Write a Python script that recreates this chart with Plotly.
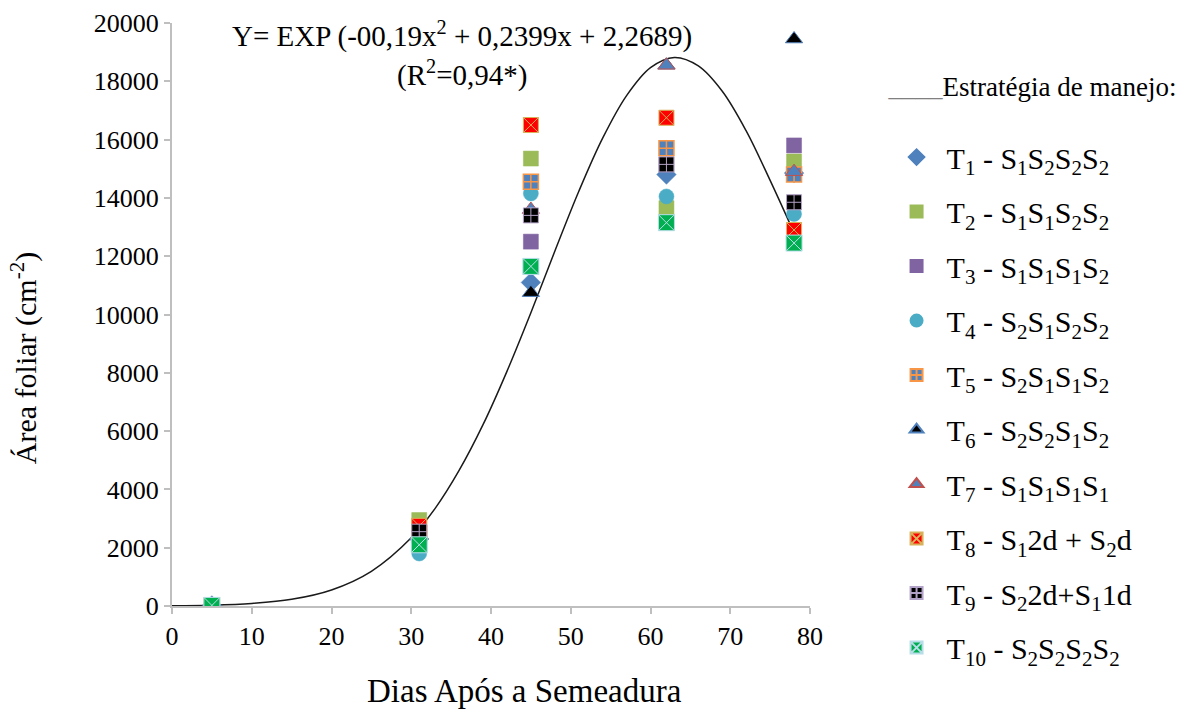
import plotly.graph_objects as go

# ---------------- data ----------------
days = [5, 31, 45, 62, 78]

T1 = [20, 2300, 11100, 14800, 14850]
T2 = [20, 2950, 15350, 13650, 15250]
T3 = [20, 2400, 12500, 15150, 15800]
T4 = [20, 1800, 14150, 14050, 13450]
T5 = [20, 2500, 14550, 15700, 14800]
T6 = [20, 2400, 10750, 18550, 19450]
T7 = [20, 2450, 13600, 18550, 14900]
T8 = [20, 2750, 16500, 16750, 12900]
T9 = [20, 2550, 13400, 15150, 13850]
T10 = [20, 2100, 11650, 13150, 12450]

# fitted curve
curve_x = [0, 5, 10, 15, 20, 25, 30, 33, 36, 39, 42, 45, 48, 51, 54, 57, 60, 63, 66, 69, 72, 75, 78]
curve_y = [10, 30, 90, 230, 550, 1190, 2340, 3350, 4650, 6220, 8050, 10060, 12170, 14220,
           16050, 17510, 18470, 18820, 18530, 17660, 16300, 14600, 12800]

names = [
    "T<sub>1</sub> - S<sub>1</sub>S<sub>2</sub>S<sub>2</sub>S<sub>2</sub>",
    "T<sub>2</sub> - S<sub>1</sub>S<sub>1</sub>S<sub>2</sub>S<sub>2</sub>",
    "T<sub>3</sub> - S<sub>1</sub>S<sub>1</sub>S<sub>1</sub>S<sub>2</sub>",
    "T<sub>4</sub> - S<sub>2</sub>S<sub>1</sub>S<sub>2</sub>S<sub>2</sub>",
    "T<sub>5</sub> - S<sub>2</sub>S<sub>1</sub>S<sub>1</sub>S<sub>2</sub>",
    "T<sub>6</sub> - S<sub>2</sub>S<sub>2</sub>S<sub>1</sub>S<sub>2</sub>",
    "T<sub>7</sub> - S<sub>1</sub>S<sub>1</sub>S<sub>1</sub>S<sub>1</sub>",
    "T<sub>8</sub> - S<sub>1</sub>2d + S<sub>2</sub>d",
    "T<sub>9</sub> - S<sub>2</sub>2d+S<sub>1</sub>1d",
    "T<sub>10</sub> - S<sub>2</sub>S<sub>2</sub>S<sub>2</sub>S<sub>2</sub>",
]
series = [T1, T2, T3, T4, T5, T6, T7, T8, T9, T10]

# ---------------- styles ----------------
styles = [
    dict(symbol="diamond", color="#4F81BD", line=dict(color="#4F81BD", width=0.5), size=15),
    dict(symbol="square", color="#9BBB59", line=dict(color="#9BBB59", width=0.5), size=15),
    dict(symbol="square", color="#8064A2", line=dict(color="#8064A2", width=0.5), size=15),
    dict(symbol="circle", color="#4BACC6", line=dict(color="#4BACC6", width=0.5), size=15),
    dict(symbol="square-cross", color="#4F81BD", line=dict(color="#F79646", width=1.5), size=15),
    dict(symbol="triangle-up", color="#000000", line=dict(color="#4F81BD", width=1), size=15),
    dict(symbol="triangle-up", color="#4F81BD", line=dict(color="#C0504D", width=1), size=15),
    dict(symbol="square-x", color="#FF0000", line=dict(color="#D8B25A", width=1), size=15),
    dict(symbol="square-cross", color="#000000", line=dict(color="#B3A2C7", width=1), size=15),
    dict(symbol="square-x", color="#00B050", line=dict(color="#B7DEE8", width=1), size=16),
]

fig = go.Figure()

fig.add_trace(go.Scatter(
    x=curve_x, y=curve_y, mode="lines", line=dict(color="#1a1a1a", width=1.5, shape="spline"),
    showlegend=False, hoverinfo="skip"))

for i, (nm, ys, st) in enumerate(zip(names, series, styles)):
    fig.add_trace(go.Scatter(
        x=days, y=ys, mode="markers", name=nm, legendgroup=f"g{i}",
        marker=dict(symbol=st["symbol"], color=st["color"], size=st["size"], line=st["line"]),
    ))

serif = "Liberation Serif, Times New Roman, serif"

fig.update_layout(
    width=1198, height=711,
    margin=dict(l=172, r=388, t=23, b=105),
    paper_bgcolor="white", plot_bgcolor="white",
    font=dict(family=serif, size=26, color="#000000"),
    xaxis=dict(range=[0, 80], dtick=10, tick0=0, showgrid=False, zeroline=False,
               showline=True, linecolor="#BFBFBF", linewidth=2, automargin=False,
               ticks="outside", ticklen=6, tickcolor="#BFBFBF", tickwidth=2,
               tickfont=dict(size=26)),
    yaxis=dict(range=[0, 20000], dtick=2000, tick0=0, showgrid=False, zeroline=False,
               showline=True, linecolor="#BFBFBF", linewidth=2, tickformat="d", automargin=False,
               ticks="outside", ticklen=6, tickcolor="#BFBFBF", tickwidth=2,
               tickfont=dict(size=26)),
    legend=dict(x=1.12, y=0.935, xanchor="left", yanchor="top", itemsizing="constant",
                itemwidth=50, font=dict(size=30), tracegroupgap=12.5, bgcolor="rgba(0,0,0,0)",
                maxheight=705,
                title=dict(text='<span style="color:#808080">____</span>Estratégia de manejo:<br> ',
                           font=dict(size=27), side="top")),
    annotations=[
        dict(x=0.455, y=0.98, xref="paper", yref="paper", xanchor="center", yanchor="middle",
             showarrow=False, text="Y= EXP (-00,19x<sup>2</sup> + 0,2399x + 2,2689)",
             font=dict(size=29)),
        dict(x=0.455, y=0.913, xref="paper", yref="paper", xanchor="center", yanchor="middle",
             showarrow=False, text="(R<sup>2</sup>=0,94*)", font=dict(size=29)),
        # axis titles
        dict(x=0.552, y=-0.145, xref="paper", yref="paper", xanchor="center", yanchor="middle",
             showarrow=False, text="Dias Após a Semeadura", font=dict(size=33)),
        dict(x=-0.232, y=0.425, xref="paper", yref="paper", xanchor="center", yanchor="middle",
             showarrow=False, textangle=-90, text="Área foliar (cm<sup>-2</sup>)",
             font=dict(size=30)),
    ],
)

fig.write_html("out.html", config={"displayModeBar": False},
               post_script="document.body.style.margin='0px';")
